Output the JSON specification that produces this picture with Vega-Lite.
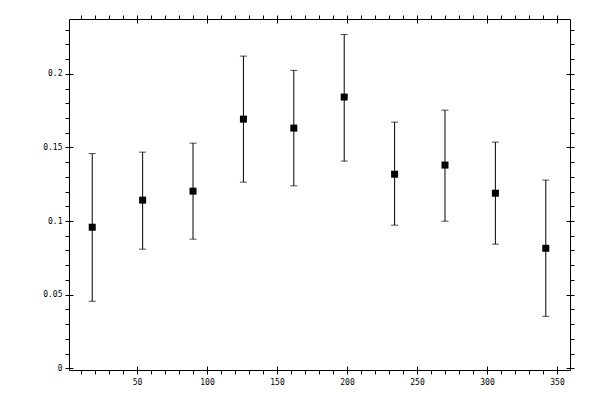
{
  "$schema": "https://vega.github.io/schema/vega-lite/v6.json",
  "width": 501,
  "height": 351,
  "autosize": "none",
  "padding": {"left": 69, "top": 19, "right": 30, "bottom": 30},
  "background": "white",
  "config": {
    "view": {"stroke": "black", "strokeWidth": 1},
    "axis": {
      "grid": false,
      "domain": false,
      "title": null,
      "tickColor": "black",
      "tickWidth": 1,
      "labelColor": "black",
      "labelFont": "DejaVu Sans Mono",
      "labelFontSize": 8,
      "labelFlush": false,
      "labelOverlap": false
    }
  },
  "data": {
    "values": [
      {"x": 18, "y": 0.0958, "lo": 0.0455, "hi": 0.1458},
      {"x": 54, "y": 0.1142, "lo": 0.0809, "hi": 0.1468},
      {"x": 90, "y": 0.1203, "lo": 0.0877, "hi": 0.1529},
      {"x": 126, "y": 0.1692, "lo": 0.1264, "hi": 0.2120},
      {"x": 162, "y": 0.1631, "lo": 0.1239, "hi": 0.2023},
      {"x": 198, "y": 0.1842, "lo": 0.1407, "hi": 0.2267},
      {"x": 234, "y": 0.1318, "lo": 0.0972, "hi": 0.1672},
      {"x": 270, "y": 0.1380, "lo": 0.0999, "hi": 0.1753},
      {"x": 306, "y": 0.1189, "lo": 0.0843, "hi": 0.1536},
      {"x": 342, "y": 0.0815, "lo": 0.0353, "hi": 0.1278}
    ]
  },
  "layer": [
    {
      "mark": {"type": "rule", "color": "black", "strokeWidth": 1},
      "encoding": {
        "x": {
          "field": "x", "type": "quantitative",
          "scale": {"domain": [1.4, 359.3], "nice": false, "zero": false},
          "axis": {
            "orient": "bottom", "tickSize": 4, "labelPadding": 4,
            "values": [10,20,30,40,50,60,70,80,90,100,110,120,130,140,150,160,170,180,190,200,210,220,230,240,250,260,270,280,290,300,310,320,330,340,350],
            "labelExpr": "datum.value % 50 == 0 ? datum.label : ''"
          }
        },
        "y": {
          "field": "lo", "type": "quantitative",
          "scale": {"domain": [-0.00116, 0.2372], "nice": false, "zero": false},
          "axis": {
            "orient": "left", "tickSize": 4, "labelPadding": 3, "format": "~g",
            "values": [0,0.01,0.02,0.03,0.04,0.05,0.06,0.07,0.08,0.09,0.1,0.11,0.12,0.13,0.14,0.15,0.16,0.17,0.18,0.19,0.2,0.21,0.22,0.23],
            "labelExpr": "round(datum.value * 100) % 5 == 0 ? datum.label : ''"
          }
        },
        "y2": {"field": "hi"}
      }
    },
    {
      "mark": {"type": "tick", "orient": "horizontal", "color": "black", "size": 7, "thickness": 1},
      "encoding": {
        "x": {
          "field": "x", "type": "quantitative",
          "scale": {"domain": [1.4, 359.3], "nice": false, "zero": false},
          "axis": {
            "orient": "top", "tickSize": 4, "labels": false,
            "values": [10,20,30,40,50,60,70,80,90,100,110,120,130,140,150,160,170,180,190,200,210,220,230,240,250,260,270,280,290,300,310,320,330,340,350]
          }
        },
        "y": {
          "field": "hi", "type": "quantitative",
          "scale": {"domain": [-0.00116, 0.2372], "nice": false, "zero": false},
          "axis": {
            "orient": "right", "tickSize": 4, "labels": false,
            "values": [0,0.01,0.02,0.03,0.04,0.05,0.06,0.07,0.08,0.09,0.1,0.11,0.12,0.13,0.14,0.15,0.16,0.17,0.18,0.19,0.2,0.21,0.22,0.23]
          }
        }
      }
    },
    {
      "mark": {"type": "tick", "orient": "horizontal", "color": "black", "size": 7, "thickness": 1},
      "encoding": {
        "x": {
          "field": "x", "type": "quantitative",
          "scale": {"domain": [1.4, 359.3], "nice": false, "zero": false},
          "axis": {"orient": "bottom", "tickSize": -4, "labels": false, "values": [50,100,150,200,250,300,350]}
        },
        "y": {
          "field": "lo", "type": "quantitative",
          "scale": {"domain": [-0.00116, 0.2372], "nice": false, "zero": false},
          "axis": {"orient": "left", "tickSize": -4, "labels": false, "values": [0,0.05,0.1,0.15,0.2]}
        }
      }
    },
    {
      "mark": {"type": "point", "shape": "square", "filled": true, "color": "black", "size": 49, "opacity": 1},
      "encoding": {
        "x": {
          "field": "x", "type": "quantitative",
          "scale": {"domain": [1.4, 359.3], "nice": false, "zero": false},
          "axis": {"orient": "top", "tickSize": -4, "labels": false, "values": [50,100,150,200,250,300,350]}
        },
        "y": {
          "field": "y", "type": "quantitative",
          "scale": {"domain": [-0.00116, 0.2372], "nice": false, "zero": false},
          "axis": {"orient": "right", "tickSize": -4, "labels": false, "values": [0,0.05,0.1,0.15,0.2]}
        }
      }
    }
  ],
  "resolve": {"axis": {"x": "independent", "y": "independent"}}
}
